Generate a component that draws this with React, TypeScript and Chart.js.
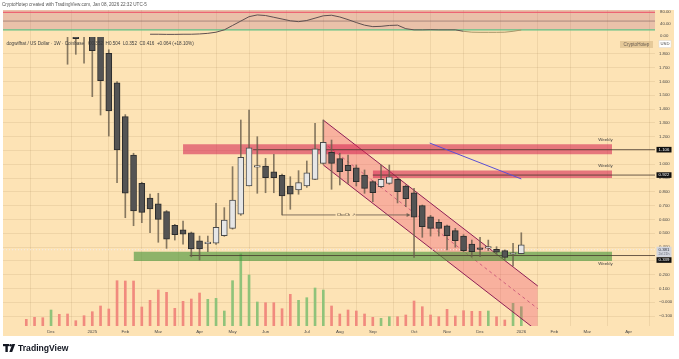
import React, { useEffect, useRef } from 'react';
import { Chart, registerables } from 'chart.js';

Chart.register(...registerables);

const FONT = '"Liberation Sans", Arial, Helvetica, sans-serif';

// Weekly bars (week start, Monday) — dogwifhat / US Dollar, Coinbase
const weekStarts = [
  '2024-11-11', '2024-11-18', '2024-11-25', '2024-12-02', '2024-12-09', '2024-12-16', '2024-12-23', '2024-12-30',
  '2025-01-06', '2025-01-13', '2025-01-20', '2025-01-27', '2025-02-03', '2025-02-10', '2025-02-17', '2025-02-24',
  '2025-03-03', '2025-03-10', '2025-03-17', '2025-03-24', '2025-03-31', '2025-04-07', '2025-04-14', '2025-04-21',
  '2025-04-28', '2025-05-05', '2025-05-12', '2025-05-19', '2025-05-26', '2025-06-02', '2025-06-09', '2025-06-16',
  '2025-06-23', '2025-06-30', '2025-07-07', '2025-07-14', '2025-07-21', '2025-07-28', '2025-08-04', '2025-08-11',
  '2025-08-18', '2025-08-25', '2025-09-01', '2025-09-08', '2025-09-15', '2025-09-22', '2025-09-29', '2025-10-06',
  '2025-10-13', '2025-10-20', '2025-10-27', '2025-11-03', '2025-11-10', '2025-11-17', '2025-11-24', '2025-12-01',
  '2025-12-08', '2025-12-15', '2025-12-22', '2025-12-29', '2026-01-05',
];

const opens = [
  3.50, 3.20, 3.05, 2.95, 3.55, 2.90, 2.10, 2.02,
  1.97, 1.95, 1.804, 1.591, 1.345, 1.067, 0.862, 0.756,
  0.714, 0.657, 0.558, 0.526, 0.504, 0.446, 0.425, 0.428,
  0.483, 0.536, 0.638, 0.843, 0.980, 0.988, 0.946, 0.920,
  0.843, 0.814, 0.843, 0.891, 1.007, 1.087, 1.041, 0.993,
  0.975, 0.922, 0.874, 0.838, 0.862, 0.891, 0.843, 0.794,
  0.700, 0.620, 0.580, 0.555, 0.519, 0.480, 0.422, 0.391,
  0.393, 0.384, 0.374, 0.348, 0.352,
];
const highs = [
  3.95, 3.60, 3.30, 4.00, 3.60, 3.10, 2.30, 2.20,
  2.08, 2.00, 1.830, 1.600, 1.360, 1.080, 0.870, 0.785,
  0.790, 0.665, 0.565, 0.589, 0.509, 0.480, 0.480, 0.717,
  0.686, 0.983, 1.321, 1.393, 1.200, 1.043, 1.072, 0.930,
  0.910, 0.954, 1.024, 1.297, 1.321, 1.176, 1.080, 1.067,
  0.995, 0.959, 0.880, 0.995, 0.995, 0.900, 0.850, 0.826,
  0.705, 0.630, 0.600, 0.560, 0.536, 0.490, 0.451, 0.471,
  0.451, 0.403, 0.380, 0.428, 0.504,
];
const lows = [
  3.00, 2.90, 2.75, 2.90, 2.80, 1.725, 1.797, 1.732,
  1.490, 1.357, 1.205, 0.867, 0.613, 0.555, 0.577, 0.504,
  0.435, 0.391, 0.451, 0.422, 0.330, 0.307, 0.367, 0.420,
  0.478, 0.530, 0.630, 0.843, 0.790, 0.794, 0.794, 0.633,
  0.674, 0.783, 0.833, 0.889, 1.000, 0.819, 0.850, 0.862,
  0.843, 0.790, 0.729, 0.830, 0.855, 0.720, 0.693, 0.326,
  0.471, 0.480, 0.480, 0.379, 0.399, 0.367, 0.330, 0.330,
  0.375, 0.350, 0.307, 0.263, 0.352,
];
const closes = [
  3.20, 3.05, 2.95, 3.55, 2.90, 2.10, 1.91, 1.97,
  1.823, 1.606, 1.386, 1.104, 0.790, 0.662, 0.652, 0.676,
  0.601, 0.457, 0.490, 0.493, 0.386, 0.386, 0.431, 0.543,
  0.596, 0.741, 1.051, 1.120, 0.986, 0.903, 0.903, 0.770,
  0.783, 0.867, 0.939, 1.113, 1.159, 1.007, 0.946, 0.954,
  0.874, 0.826, 0.794, 0.891, 0.910, 0.801, 0.751, 0.616,
  0.548, 0.536, 0.536, 0.483, 0.446, 0.374, 0.367, 0.384,
  0.396, 0.364, 0.326, 0.352, 0.416,
];
const volumes = [
  6.7, 8.7, 8.3, 16, 11.7, 12, 5.3, 10.3,
  14.3, 20, 17, 45.3, 45, 45, 19, 25.7,
  36, 33.7, 17.7, 24.7, 27, 33, 26.7, 27.7,
  15, 45.3, 72, 51, 24, 23.3, 23.3, 17.3,
  31.7, 25.7, 28.3, 38, 36, 20, 12, 16,
  15, 12, 8.7, 7.7, 9.3, 9.3, 11, 25,
  19.3, 11, 9.3, 16.7, 10, 15.3, 14.7, 14.7,
  15, 9.3, 6, 22.7, 19.3,
];
const oscillator = [
  null, null, null, null, null, null, null, null,
  null, null, null, null, null, null, null, 5,
  5, 4.5, 4.5, 5, 5, 6, 8, 12,
  20, 35, 50, 65, 71, 69, 63, 57,
  51, 48, 52, 60, 68, 70, 64, 55,
  45, 36, 31, 32, 35, 36, 24, 20,
  20, 20.5, 20, 20, 20, 15, 12, 11.5,
  11.5, 11.5, 12, 15, 19.5,
];

const monthTickDates = [
  '2024-12-02', '2025-01-06', '2025-02-03', '2025-03-03', '2025-04-07', '2025-05-05', '2025-06-02', '2025-07-07',
  '2025-08-04', '2025-09-01', '2025-10-06', '2025-11-03', '2025-12-01', '2026-01-05', '2026-02-02', '2026-03-02', '2026-04-06',
];
const monthTickLabels = ['Dec', '2025', 'Feb', 'Mar', 'Apr', 'May', 'Jun', 'Jul', 'Aug', 'Sep', 'Oct', 'Nov', 'Dec', '2026', 'Feb', 'Mar', 'Apr'];

const priceTicks = [1.8, 1.7, 1.6, 1.5, 1.4, 1.3, 1.2, 1.1, 1.0, 0.9, 0.8, 0.7, 0.6, 0.5, 0.4, 0.3, 0.2, 0.1, 0, -0.1];
const priceTickLabels = ['1.800', '1.700', '1.600', '1.500', '1.400', '1.300', '1.200', '1.100', '1.000', '0.900', '0.800', '0.700', '0.600', '0.500', '0.400', '0.300', '0.200', '0.100', '\u22120.000', '\u22120.100'];

const oscLevels = [80, 50, 20];
const oscAxisValues = [80, 40, 0];
const oscAxisLabels = ['80.00', '40.00', '0.00'];

// zones in week units / price
const zoneStarts = [5, 11, 34];
const zoneEnds = [63, 63, 63];
const zoneTops = [0.367, 1.145, 0.955];
const zoneBottoms = [0.299, 1.072, 0.900];

const levelPrices = [1.106, 0.922, 0.339];
const levelStarts = [19.5, 34, 11.8];
const levelLabels = ['1.106', '0.922', '0.339'];
const levelNoteOffsets = [-9.5, -9.5, 8.5];

const channelX = [28, 54];
const channelUpper = [1.32, 0.118];
const channelLower = [0.995, -0.21];

const trendX = [40.9, 52.0];
const trendY = [1.154, 0.894];

const chochX = [23, 38.4];
const chochPrice = 0.633;

const lastPrice = 0.381;

const WEEK0 = Date.parse('2025-01-06T00:00:00Z');
const toWeek = (d: string) => Math.round((Date.parse(d + 'T00:00:00Z') - WEEK0) / (7 * 86400000));

const X_MIN = -10.824;
const X_MAX = 68.206;
const Y_MIN = -0.1717;
const Y_MAX = 2.1181;
const OSC_MIN = -992.5;
const OSC_MAX = 87.86;

const GRID = 'rgba(150,118,70,0.13)';

export default function App() {
  const ref = useRef<HTMLCanvasElement>(null);

  useEffect(() => {
    const canvas = ref.current;
    if (!canvas) return;
    const xs = weekStarts.map(toWeek);
    const up = closes.map((c, i) => c >= opens[i]);
    const seg = (x0: number, x1: number, y0: number, y1: number) => [{ x: x0, y: y0 }, { x: x1, y: y1 }];

    const lineBase = { type: 'line' as const, pointRadius: 0, tension: 0, fill: false };

    const datasets: any[] = [
      { ...lineBase, yAxisID: 'rsi', data: seg(X_MIN, X_MAX, OSC_MAX, OSC_MAX), borderWidth: 0, fill: { value: oscLevels[2] }, backgroundColor: 'rgba(185,105,135,0.27)', order: 100 },
      { ...lineBase, yAxisID: 'rsi', data: seg(X_MIN, X_MAX, oscLevels[0], oscLevels[0]), borderColor: '#ee4d66', borderWidth: 1, order: 99 },
      { ...lineBase, yAxisID: 'rsi', data: seg(X_MIN, X_MAX, oscLevels[1], oscLevels[1]), borderColor: 'rgba(120,90,90,0.7)', borderWidth: 0.8, order: 99 },
      { ...lineBase, yAxisID: 'rsi', data: seg(X_MIN, X_MAX, oscLevels[2], oscLevels[2]), borderColor: '#5fbf86', borderWidth: 1.4, order: 98 },
      {
        ...lineBase, yAxisID: 'rsi', data: xs.map((x, i) => ({ x, y: oscillator[i] })), borderColor: '#5f5050', borderWidth: 1, order: 97,
        segment: { borderColor: (c: any) => (c.p0.parsed.x > 44 && c.p0.parsed.y <= 20.5 && c.p1.parsed.y <= 20.5 ? '#a8976a' : '#5f5050') },
      },
      {
        type: 'bar', yAxisID: 'vol', data: xs.map((x, i) => ({ x, y: volumes[i] })),
        backgroundColor: up.map((u) => (u ? '#8fc37a' : '#f18a7e')), grouped: false, barPercentage: 1, categoryPercentage: 1, maxBarThickness: 2, order: 90,
      },
      { ...lineBase, data: seg(channelX[0], channelX[1], channelUpper[0], channelUpper[1]), borderColor: '#8e1f55', borderWidth: 1, fill: '+1', backgroundColor: 'rgba(238,62,105,0.3)', order: 70 },
      { ...lineBase, data: seg(channelX[0], channelX[1], channelLower[0], channelLower[1]), borderColor: '#8e1f55', borderWidth: 1, order: 69 },
      { ...lineBase, data: seg(channelX[0], channelX[1], (channelUpper[0] + channelLower[0]) / 2, (channelUpper[1] + channelLower[1]) / 2), borderColor: 'rgba(180,40,100,0.75)', borderWidth: 0.8, borderDash: [3, 3], order: 68 },
      ...zoneStarts.map((s, i) => ({
        ...lineBase, data: seg(s, zoneEnds[i], zoneTops[i], zoneTops[i]), borderWidth: 0, fill: { value: zoneBottoms[i] },
        backgroundColor: i === 0 ? 'rgba(72,150,58,0.62)' : 'rgba(212,32,80,0.56)', order: 60,
      })),
      ...levelPrices.map((p, i) => ({ ...lineBase, data: seg(levelStarts[i], X_MAX, p, p), borderColor: 'rgba(70,55,45,0.8)', borderWidth: 1, order: 55 })),
      { ...lineBase, data: seg(X_MIN, X_MAX, lastPrice, lastPrice), borderColor: 'rgba(235,235,245,0.9)', borderWidth: 1, borderDash: [1, 2], order: 54 },
      { ...lineBase, data: seg(trendX[0], trendX[1], trendY[0], trendY[1]), borderColor: '#5b4fd4', borderWidth: 1, order: 50 },
      { ...lineBase, data: seg(chochX[0], chochX[1], chochPrice, chochPrice), borderColor: 'rgba(110,95,80,0.85)', borderWidth: 1, order: 50 },
      {
        type: 'bar', data: xs.map((x, i) => ({ x, y: [lows[i], highs[i]] })), backgroundColor: 'rgba(105,92,75,0.8)', borderWidth: 0,
        grouped: false, barPercentage: 1, categoryPercentage: 1, maxBarThickness: 1, order: 20, clip: { left: 0, top: -27, right: 0, bottom: 0 },
      },
      {
        type: 'bar', data: xs.map((x, i) => ({ x, y: [opens[i], closes[i]] })),
        backgroundColor: up.map((u) => (u ? '#e6e6e6' : '#545454')), borderColor: up.map((u) => (u ? '#4a4a4a' : '#2c2c2c')),
        borderWidth: 1, borderSkipped: false, minBarLength: 1.5, grouped: false, barPercentage: 1, categoryPercentage: 1, maxBarThickness: 6,
        order: 10, clip: { left: 0, top: -27, right: 0, bottom: 0 },
      },
    ];

    const background = {
      id: 'background',
      beforeDraw(chart: any) {
        const { ctx, width, height } = chart;
        ctx.save();
        ctx.fillStyle = '#ffffff';
        ctx.fillRect(0, 0, width, height);
        ctx.fillStyle = '#fde3b5';
        ctx.fillRect(3, 10, 671, 326);
        ctx.fillStyle = '#555';
        ctx.font = `4.6px ${FONT}`;
        ctx.textBaseline = 'middle';
        ctx.textAlign = 'left';
        ctx.fillText('CryptoHotep created with TradingView.com, Jan 08, 2026 22:32 UTC-5', 2, 5);
        ctx.restore();
      },
    };

    const overlay = {
      id: 'overlay',
      afterDraw(chart: any) {
        const { ctx, chartArea, scales } = chart;
        const sx = scales.x, sy = scales.y, so = scales.rsi;
        const ax = chartArea.right;
        ctx.save();
        ctx.textBaseline = 'middle';

        // oscillator axis labels
        ctx.font = `4.3px ${FONT}`;
        ctx.fillStyle = '#444';
        ctx.textAlign = 'left';
        oscAxisValues.forEach((v, i) => ctx.fillText(oscAxisLabels[i], ax + 5, so.getPixelForValue(v)));

        // legend
        ctx.font = `4.6px ${FONT}`;
        ctx.fillStyle = '#3c3c3c';
        ctx.fillText('dogwifhat / US Dollar \u00b7 1W \u00b7 Coinbase   O0.352  H0.504  L0.352  C0.416  +0.064 (+18.10%)', 6.5, 44);

        // CryptoHotep tag and USD
        ctx.fillStyle = 'rgba(205,175,125,0.5)';
        ctx.fillRect(ax - 35, 41, 33, 7);
        ctx.fillStyle = '#6a5d50';
        ctx.textAlign = 'center';
        ctx.fillText('CryptoHotep', ax - 18.5, 44.6);
        ctx.fillStyle = '#ffffff';
        ctx.fillRect(ax + 4, 40.5, 12, 7);
        ctx.strokeStyle = '#d8d8d8';
        ctx.lineWidth = 0.5;
        ctx.strokeRect(ax + 4, 40.5, 12, 7);
        ctx.fillStyle = '#444';
        ctx.font = `4.2px ${FONT}`;
        ctx.fillText('USD', ax + 10, 44);

        // Weekly notes
        ctx.font = `4.4px ${FONT}`;
        ctx.fillStyle = '#3a3a3a';
        levelPrices.forEach((p, i) => ctx.fillText('Weekly', sx.getPixelForValue(62.2), sy.getPixelForValue(p) + levelNoteOffsets[i]));

        // ChoCh label & arrow
        const cy = sy.getPixelForValue(chochPrice);
        const cx = sx.getPixelForValue((chochX[0] + chochX[1]) / 2);
        ctx.fillStyle = '#fde3b5';
        ctx.fillRect(cx - 10, cy - 3, 20, 6);
        ctx.fillStyle = '#4a4038';
        ctx.fillText('ChoCh \u2197', cx, cy);
        const ex = sx.getPixelForValue(chochX[1]);
        ctx.fillStyle = 'rgba(110,95,80,0.9)';
        ctx.beginPath();
        ctx.moveTo(ex + 1.5, cy);
        ctx.lineTo(ex - 2.5, cy - 2);
        ctx.lineTo(ex - 2.5, cy + 2);
        ctx.closePath();
        ctx.fill();

        // price axis boxes
        const bx = ax + 1.5, bw = 15;
        ctx.font = `4.3px ${FONT}`;
        const blackBox = (cyy: number, txt: string) => {
          ctx.fillStyle = '#101010';
          ctx.fillRect(bx, cyy - 2.8, bw, 5.6);
          ctx.fillStyle = '#ffffff';
          ctx.fillText(txt, bx + bw / 2, cyy);
        };
        blackBox(sy.getPixelForValue(levelPrices[0]), levelLabels[0]);
        blackBox(sy.getPixelForValue(levelPrices[1]), levelLabels[1]);
        const lp = sy.getPixelForValue(lastPrice);
        ctx.fillStyle = '#d3d6de';
        ctx.fillRect(bx, lp - 3, bw, 10.5);
        ctx.fillStyle = '#2a2e39';
        ctx.fillText('0.381', bx + bw / 2, lp);
        ctx.fillStyle = '#6a6e79';
        ctx.font = `3.6px ${FONT}`;
        ctx.fillText('2d 21h', bx + bw / 2, lp + 4.2);
        ctx.font = `4.3px ${FONT}`;
        const sp = Math.max(sy.getPixelForValue(levelPrices[2]), lp + 7.5 + 2.8);
        blackBox(sp, levelLabels[2]);

        // TradingView logo
        ctx.fillStyle = '#131722';
        ctx.fillRect(3, 344, 6, 2.2);
        ctx.fillRect(5.4, 344, 2.4, 8);
        ctx.beginPath();
        ctx.arc(10.6, 345.3, 1.3, 0, Math.PI * 2);
        ctx.fill();
        ctx.beginPath();
        ctx.moveTo(12.3, 344);
        ctx.lineTo(15.2, 344);
        ctx.lineTo(12.2, 352);
        ctx.lineTo(9.3, 352);
        ctx.closePath();
        ctx.fill();
        ctx.textAlign = 'left';
        ctx.font = `bold 8.6px ${FONT}`;
        ctx.fillText('TradingView', 18, 348.3);
        ctx.restore();
      },
    };

    const chart = new Chart(canvas, {
      type: 'bar',
      data: { datasets },
      options: {
        animation: false,
        responsive: false,
        devicePixelRatio: 1,
        events: [],
        layout: { padding: { left: 3, top: 10, right: 5, bottom: 23 } },
        plugins: { legend: { display: false }, tooltip: { enabled: false }, title: { display: false } },
        scales: {
          x: {
            type: 'linear', min: X_MIN, max: X_MAX, offset: false,
            border: { display: false },
            grid: { color: GRID, drawTicks: false, lineWidth: 1 },
            ticks: {
              font: { size: 4.4, family: FONT }, color: '#4a4a4a', padding: 3, maxRotation: 0, autoSkip: false,
              callback: (_v: any, i: number) => monthTickLabels[i],
            },
            afterBuildTicks: (s: any) => { s.ticks = monthTickDates.map((d) => ({ value: toWeek(d) })); },
            afterFit: (s: any) => { s.height = 10; },
          },
          y: {
            type: 'linear', position: 'right', min: Y_MIN, max: Y_MAX,
            border: { display: false },
            grid: { color: GRID, drawTicks: false, lineWidth: 1 },
            ticks: { font: { size: 4.3, family: FONT }, color: '#444', padding: 4, callback: (_v: any, i: number) => priceTickLabels[i] },
            afterBuildTicks: (s: any) => { s.ticks = priceTicks.map((value) => ({ value })); },
            afterFit: (s: any) => { s.width = 19; },
          },
          vol: { type: 'linear', axis: 'y', position: 'left', display: false, min: 0, max: 316 },
          rsi: { type: 'linear', axis: 'y', position: 'left', display: false, min: OSC_MIN, max: OSC_MAX },
        },
      } as any,
      plugins: [background, overlay],
    } as any);

    return () => chart.destroy();
  }, []);

  return (
    <div style={{ position: 'fixed', left: 0, top: 0, width: 679, height: 359, background: '#fff' }}>
      <canvas ref={ref} width={679} height={359} style={{ display: 'block', width: 679, height: 359 }} />
    </div>
  );
}
